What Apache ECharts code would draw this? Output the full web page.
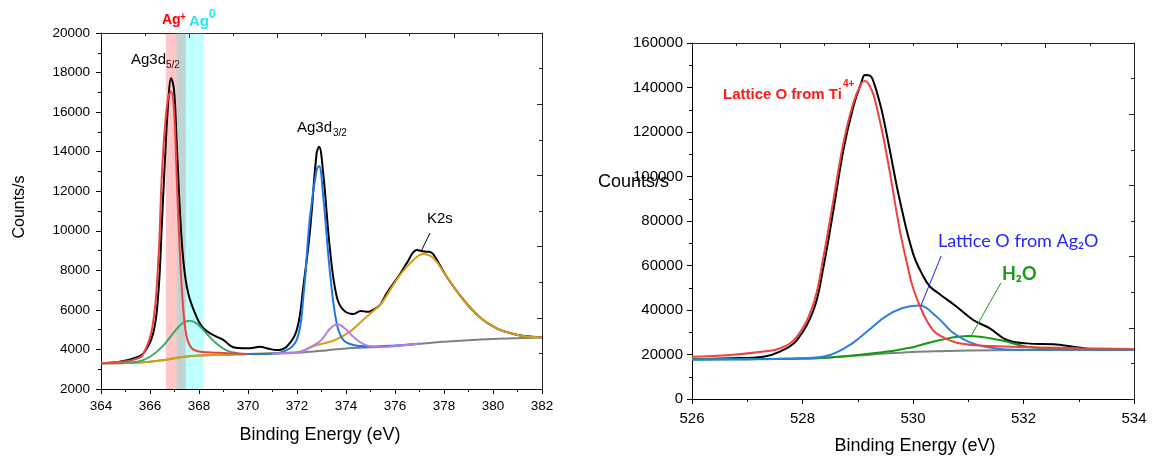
<!DOCTYPE html>
<html><head><meta charset="utf-8">
<script src="https://cdn.jsdelivr.net/npm/echarts@6/dist/echarts.min.js"></script>
<style>html,body{margin:0;padding:0;background:#fff}#c{width:1152px;height:456px}</style>
</head><body><div id="c"></div>
<script>
// ---------- Left panel: Ag 3d / K 2s (Binding Energy eV, Counts/s) ----------
const agRaw = [[364,3300],[364.5,3330],[364.78,3380],[365.32,3550],[365.73,3800],[366.13,4815],[366.34,6840],[366.48,10200],[366.61,13580],[366.75,16610],[366.86,17710],[366.98,17120],[367.09,14420],[367.22,11050],[367.36,8520],[367.56,6840],[367.9,5650],[368.18,5070],[368.58,4730],[368.99,4480],[369.4,4110],[369.8,4060],[370.08,4060],[370.49,4140],[370.8,4050],[371.17,3970],[371.58,4140],[371.99,4980],[372.26,7200],[372.53,10000],[372.8,13910],[372.9,14250],[373.07,12900],[373.35,9000],[373.62,6670],[373.89,6000],[374.3,5790],[374.6,5950],[374.9,5900],[375.1,6000],[375.39,6250],[375.66,6840],[376.2,7800],[376.5,8400],[376.89,9030],[377.2,8950],[377.4,8940],[377.57,8800],[378.1,7700],[378.8,6500],[379.47,5620],[380.15,5070],[380.83,4780],[381.3,4680],[382,4600]];
const agPlus52 = [[364,3300],[365,3400],[365.3,3470],[365.7,3720],[366.1,5150],[366.34,8520],[366.48,12730],[366.61,15260],[366.75,16780],[366.86,17030],[366.98,16100],[367.09,12730],[367.22,8860],[367.36,6000],[367.5,4640],[367.7,4060],[368.0,3900],[368.5,3850],[369,3820],[369.5,3790],[370,3770]];
const agZero52 = [[364,3300],[365,3330],[365.5,3380],[366,3630],[366.5,4140],[367,4900],[367.3,5300],[367.6,5450],[367.9,5320],[368.3,4815],[368.7,4310],[369.1,3970],[369.6,3800],[370,3760]];
const agPlus32 = [[370,3770],[371,3800],[371.44,3885],[371.99,4480],[372.26,6670],[372.53,10710],[372.8,13070],[372.9,13270],[373.07,11720],[373.35,7850],[373.62,5320],[373.89,4480],[374.3,4225],[375,4150],[376,4200],[377,4290]];
const agZero32 = [[371,3800],[372,3840],[372.46,4060],[373.0,4480],[373.3,4980],[373.65,5270],[374.03,4980],[374.3,4640],[374.7,4280],[375.1,4140],[375.5,4130],[376,4180],[377,4290]];
const k2s = [[364,3300],[365,3320],[366,3380],[366.5,3450],[367,3560],[367.5,3640],[368,3690],[369,3730],[370,3770],[371,3790],[371.5,3820],[372.12,3885],[372.8,4225],[373.48,4440],[374.16,4900],[374.84,5655],[375.39,6250],[375.52,6450],[376.2,7750],[376.75,8520],[377.16,8830],[377.57,8610],[378.11,7680],[378.79,6500],[379.47,5620],[380.15,5070],[380.83,4780],[381.4,4650],[382,4610]];
const agBackground = [[364,3300],[365,3320],[366,3380],[366.5,3450],[367,3560],[367.5,3640],[368,3690],[369,3730],[370,3770],[371,3790],[372,3830],[372.5,3880],[373,3930],[373.5,4000],[374,4050],[375,4110],[376,4180],[377,4290],[378,4390],[379,4470],[380,4530],[381,4570],[382,4600]];
const agPlusBand = [366.65, 367.46];
const agZeroBand = [367.09, 368.19];
const k2sArrow = [[377.09, 9028], [377.43, 9888]];

// ---------- Right panel: O 1s ----------
const oRaw = [[526,17900],[526.69,18290],[527.29,19010],[527.59,21260],[527.9,26510],[528.2,40000],[528.38,59460],[528.56,84940],[528.74,111900],[528.92,131360],[529.07,142600],[529.13,145600],[529.22,145300],[529.3,141500],[529.4,133000],[529.46,126870],[529.58,111900],[529.76,89430],[530.0,65470],[530.19,54960],[530.31,50470],[530.49,47000],[530.79,41480],[531.09,35500],[531.39,31770],[531.7,26510],[532.06,25000],[532.54,24580],[532.9,23500],[533.26,22340],[533.6,22200],[534,22200]];
const oTi = [[526,19000],[526.7,19800],[527.3,21300],[527.6,22800],[527.9,28000],[528.2,43000],[528.38,64000],[528.56,89500],[528.74,115000],[528.92,133000],[529.07,142000],[529.13,142900],[529.25,139000],[529.34,131500],[529.46,118000],[529.58,102000],[529.76,76000],[529.9,60000],[530.0,50000],[530.19,38000],[530.36,31000],[530.49,28500],[530.79,25300],[531.39,23800],[532.3,23200],[533,22800],[534,22500]];
const oAg2O = [[526,17800],[527,17850],[527.5,18000],[528.03,18290],[528.5,19770],[528.9,25030],[529.2,31000],[529.5,37000],[529.8,40760],[530.1,42000],[530.43,37000],[530.7,30250],[531.0,25760],[531.3,23500],[531.7,22300],[532.2,22150],[533,22100],[534,22200]];
const oH2O = [[526,17800],[527,17900],[528,18200],[528.5,18700],[529.04,19900],[529.5,21200],[529.89,22780],[530.0,23300],[530.49,26510],[531.0,28300],[531.57,26510],[532.06,23500],[532.6,22600],[533.2,22300],[534,22250]];
const oBackground = [[526,17800],[527,17900],[528,18200],[528.5,18700],[529,19500],[529.5,20400],[530,21100],[530.5,21500],[531,21800],[532,22000],[533,22100],[534,22200]];
const ag2oArrow = [[530.51, 64260], [530.14, 41790]];
const h2oArrow = [[531.59, 52130], [531.05, 28300]];

const FONT = 'Liberation Sans, Arial, sans-serif';
const chart = echarts.init(document.getElementById('c'), null, {renderer: 'canvas'});

function mainAxis(gridIndex, min, max, interval, pos, fontSize, margin) {
  return {
    type: 'value', gridIndex, min, max, interval, position: pos,
    axisLine: {show: true, onZero: false, lineStyle: {color: '#000', width: 1}},
    axisTick: {show: true, inside: false, length: 5, lineStyle: {color: '#000', width: 1}},
    minorTick: {show: true, splitNumber: 2, length: 3, lineStyle: {color: '#000', width: 1}},
    axisLabel: {show: true, color: '#000', fontSize, fontFamily: FONT, margin, formatter: v => String(v)},
    splitLine: {show: false}, minorSplitLine: {show: false}
  };
}
function frameAxis(gridIndex, pos) {
  return {
    type: 'value', gridIndex, min: 0, max: 10, interval: 2, position: pos,
    axisLine: {show: true, onZero: false, lineStyle: {color: '#222', width: 1}},
    axisTick: {show: true, inside: true, length: 5, lineStyle: {color: '#222', width: 1}},
    minorTick: {show: true, splitNumber: 2, length: 3, lineStyle: {color: '#222', width: 1}},
    axisLabel: {show: false}, splitLine: {show: false}, minorSplitLine: {show: false}
  };
}
function line(data, color, xi, yi, z, extra) {
  return Object.assign({
    type: 'line', data, xAxisIndex: xi, yAxisIndex: yi, showSymbol: false, symbol: 'none',
    smooth: 0.4, silent: true, z,
    lineStyle: {color, width: 2}
  }, extra || {});
}
function arrow(pts, color) {
  return {
    silent: true, symbol: ['none', 'arrow'], symbolSize: [0, 8], animation: false,
    label: {show: false},
    lineStyle: {type: 'solid', color, width: 1},
    data: [[{coord: pts[0]}, {coord: pts[1]}]]
  };
}
function txt(text, x, y, size, color, weight, family, align, rotation) {
  const el = {
    type: 'text', x, y, silent: true,
    style: {text, fill: color, fontSize: size, fontWeight: weight || 'normal',
      fontFamily: family || FONT, align: align || 'left', verticalAlign: 'middle'}
  };
  if (rotation) el.rotation = rotation;
  return el;
}

const option = {
  animation: false,
  backgroundColor: '#fff',
  grid: [
    {left: 101, top: 33, width: 441, height: 356, containLabel: false, outerBoundsMode: 'none'},
    {left: 692, top: 43, width: 442, height: 356, containLabel: false, outerBoundsMode: 'none'}
  ],
  xAxis: [
    mainAxis(0, 364, 382, 2, 'bottom', 13.5, 10),
    frameAxis(0, 'top'),
    mainAxis(1, 526, 534, 2, 'bottom', 15, 12),
    frameAxis(1, 'top')
  ],
  yAxis: [
    mainAxis(0, 2000, 20000, 2000, 'left', 13.5, 11),
    frameAxis(0, 'right'),
    mainAxis(1, 0, 160000, 20000, 'left', 15, 9),
    frameAxis(1, 'right')
  ],
  series: [
    line(agRaw, '#000000', 0, 0, 2, {markLine: arrow(k2sArrow, '#000')}),
    line(agBackground, '#808080', 0, 0, 3, {
      markArea: {silent: true, data: [
        [{xAxis: agPlusBand[0], itemStyle: {color: 'rgba(255,0,0,0.22)'}}, {xAxis: agPlusBand[1]}],
        [{xAxis: agZeroBand[0], itemStyle: {color: 'rgba(0,255,255,0.25)'}}, {xAxis: agZeroBand[1]}]
      ]}
    }),
    line(k2s, '#d4a017', 0, 0, 4),
    line(agZero52, '#3aaa6a', 0, 0, 4),
    line(agPlus52, '#f04040', 0, 0, 4),
    line(agPlus32, '#1e78e6', 0, 0, 4),
    line(agZero32, '#b57ee6', 0, 0, 4),

    line(oRaw, '#000000', 2, 2, 2),
    line(oBackground, '#808080', 2, 2, 3),
    line(oH2O, '#139a13', 2, 2, 4, {markLine: arrow(h2oArrow, '#139a13')}),
    line(oAg2O, '#2d7fe0', 2, 2, 4, {markLine: arrow(ag2oArrow, '#1a1aff')}),
    line(oTi, '#f04040', 2, 2, 4)
  ],
  graphic: [
    txt('Ag', 162, 20, 14, '#ff0000', 'bold'),
    txt('+', 180, 17, 10, '#ff0000', 'bold'),
    txt('Ag', 189, 22, 15, '#22e8f0', 'bold'),
    txt('0', 209, 15, 12, '#22e8f0', 'bold'),
    txt('Ag3d', 131, 60, 15, '#000'),
    txt('5/2', 166, 65, 10, '#000'),
    txt('Ag3d', 297, 128, 15, '#000'),
    txt('3/2', 333, 133, 10, '#000'),
    txt('K2s', 427, 219, 15, '#000'),
    txt('Counts/s', 20, 207, 16, '#000', 'normal', FONT, 'center', Math.PI / 2),
    txt('Binding Energy (eV)', 320, 435, 18, '#000', 'normal', FONT, 'center'),
    txt('Lattice O from Ti', 723, 95, 15, '#ff1a1a', 'bold'),
    txt('4+', 843, 84, 10, '#ff1a1a', 'bold'),
    txt('Lattice O from Ag\u2082O', 938, 241, 18, '#2424ff', 'normal', 'Lato, Liberation Sans, sans-serif'),
    txt('H\u2082O', 1002, 274, 18, '#139a13', 'bold', 'Lato, Liberation Sans, sans-serif'),
    txt('Counts/s', 598, 182, 18, '#000'),
    txt('Binding Energy (eV)', 915, 446, 18, '#000', 'normal', FONT, 'center')
  ]
};
chart.setOption(option);
</script>
</body></html>
